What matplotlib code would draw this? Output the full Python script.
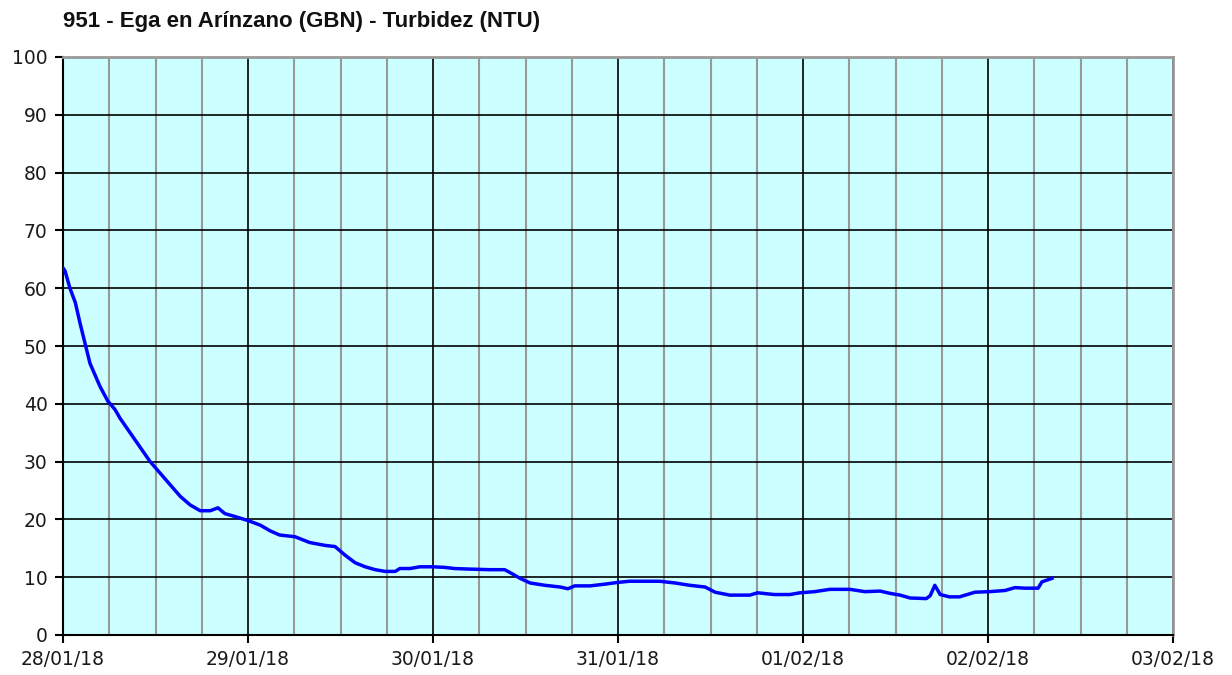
import datetime as dt
import matplotlib
matplotlib.use('Agg')
import matplotlib.pyplot as plt
import matplotlib.dates as mdates

# hours since 28/01/18 00:00 and turbidity (NTU)
hours = [0, 0.26, 0.9, 1.6, 2.2, 2.85, 3.5, 4.15, 4.8, 5.8, 6.75, 7.4, 8.7, 10, 11.3,
         12.6, 13.9, 15.2, 16.5, 17.8, 19.1, 20.1, 21, 22.3, 24, 25.6, 26.9, 28.1,
         30.1, 32, 34, 35.3, 36.6, 37.9, 39.2, 40.5, 41.8, 43.1, 43.7, 45, 46.3,
         48, 49.5, 50.8, 52.8, 55.4, 57.3, 58, 59.3, 60.6, 62.5, 64.5, 65.5, 66.4,
         68.4, 70.3, 72, 73.5, 77.4, 79.4, 81.3, 83.3, 84.6, 86.5, 89.1, 90.1, 92.3,
         94.3, 95.6, 97.5, 99.5, 102.1, 104, 106, 107.3, 108.6, 109.9, 112, 112.5,
         113.1, 113.8, 115, 116.3, 118.3, 120.2, 122.2, 123.5, 124.8, 126.5, 127, 128.3]
ntu = [63.5, 63, 60, 57.5, 54, 50.5, 47, 45, 43, 40.5, 39, 37.5, 35, 32.5, 30,
       28, 26, 24, 22.5, 21.5, 21.5, 22, 21, 20.5, 19.8, 19, 18, 17.3,
       17, 16, 15.5, 15.3, 13.8, 12.5, 11.8, 11.3, 11, 11, 11.5, 11.5, 11.8,
       11.8, 11.7, 11.5, 11.4, 11.3, 11.3, 10.8, 9.8, 9, 8.6, 8.3, 8, 8.5,
       8.5, 8.8, 9.1, 9.3, 9.3, 9, 8.6, 8.3, 7.4, 6.9, 6.9, 7.3, 7,
       7, 7.3, 7.5, 7.9, 7.9, 7.5, 7.6, 7.2, 6.9, 6.4, 6.3, 6.8,
       8.6, 7.0, 6.6, 6.6, 7.4, 7.5, 7.7, 8.2, 8.1, 8.1, 9.2, 9.8]

title = '951 - Ega en Arínzano (GBN) - Turbidez (NTU)'
start = dt.datetime(2018, 1, 28)
end = dt.datetime(2018, 2, 3)
times = [start + dt.timedelta(hours=h) for h in hours]

plt.rcParams['font.family'] = ['DejaVu Sans']

fig = plt.figure(figsize=(12.32, 6.75), dpi=100)
ax = fig.add_axes([63/1232, 1 - 635/675, 1110/1232, 578/675])
ax.set_facecolor('#ccffff')

ax.plot(times, ntu, color='#0000ff', lw=2.5, zorder=3)

ax.set_xlim(start, end)
ax.set_ylim(0, 100)
ax.set_yticks(range(0, 101, 10))
ax.xaxis.set_major_locator(mdates.DayLocator())
ax.xaxis.set_major_formatter(mdates.DateFormatter('%d/%m/%y'))
ax.xaxis.set_minor_locator(mdates.HourLocator(byhour=[6, 12, 18]))

ax.grid(True, which='major', axis='both', color='black', lw=1.2, zorder=1)
ax.grid(True, which='minor', axis='x', color='#999999', lw=1.5, zorder=0)
ax.set_axisbelow(True)

for s in ['top', 'right']:
    ax.spines[s].set_color('#999999')
    ax.spines[s].set_linewidth(2)
for s in ['left', 'bottom']:
    ax.spines[s].set_color('black')
    ax.spines[s].set_linewidth(1.5)

ax.tick_params(which='major', length=6, width=1.5, color='black',
               labelsize=13.5, labelcolor='#1a1a1a', pad=5)
ax.tick_params(which='minor', length=0)

fig.text(63/1232, 1 - 22/675, title, fontsize=16, fontweight='bold',
         family='Liberation Sans', va='center', ha='left', color='#111111')

fig.savefig('out.png', dpi=100, facecolor='white')
